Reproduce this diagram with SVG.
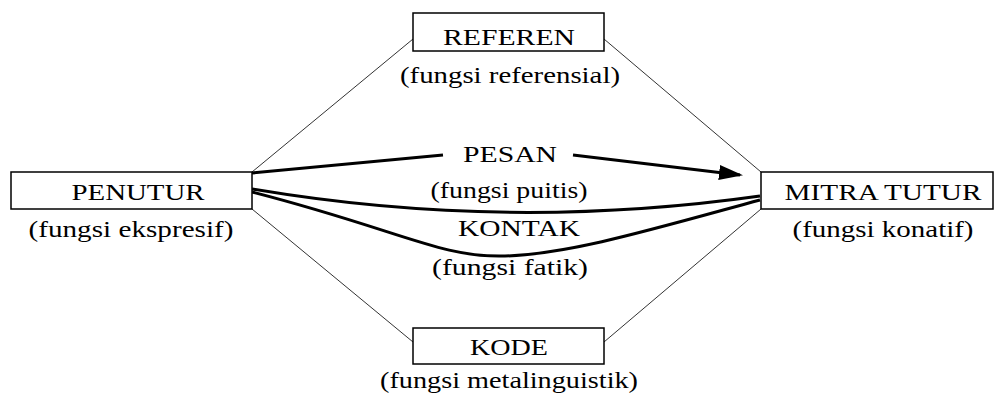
<svg xmlns="http://www.w3.org/2000/svg" width="995" height="399" viewBox="0 0 995 399">
<style>
.box{fill:#fff;stroke:#000;stroke-width:1.5}
.t{font-family:"Liberation Serif","Times New Roman",serif;font-size:23px;fill:#000;text-anchor:middle}
.thin{fill:none;stroke:#333;stroke-width:1}
.thick{fill:none;stroke:#000;stroke-width:3}
</style>
<defs>
<marker id="ah" markerWidth="8" markerHeight="5" refX="7" refY="2.5" orient="auto" markerUnits="strokeWidth">
<path d="M0,0 L8,2.5 L0,5 Z" fill="#000"/>
</marker>
</defs>
<rect width="995" height="399" fill="#fff"/>
<g id="connectors">
<path class="thin" d="M252,172 L413,39"/>
<path class="thin" d="M604,39 L761,172"/>
<path class="thin" d="M252,209 L413,342"/>
<path class="thin" d="M604,342 L761,209"/>
<path class="thick" d="M252,173 L443,155"/>
<path class="thick" d="M573,155 L740,175" marker-end="url(#ah)"/>
<path class="thick" d="M252,189 Q505,232 760,196"/>
<path class="thick" d="M252,192 C400,230 440,258 505,256 C570,254 650,230 760,200"/>
</g>
<g id="referen">
<rect class="box" x="413" y="13" width="191" height="38"/>
<text class="t" transform="translate(509,45) scale(1.26,1)" textLength="104.8" lengthAdjust="spacingAndGlyphs">REFEREN</text>
<text class="t" transform="translate(510,83) scale(1.26,1)" textLength="174.6" lengthAdjust="spacingAndGlyphs">(fungsi referensial)</text>
</g>
<g id="penutur">
<rect class="box" x="11" y="172" width="241" height="37"/>
<text class="t" transform="translate(138,200) scale(1.26,1)" textLength="105.6" lengthAdjust="spacingAndGlyphs">PENUTUR</text>
<text class="t" transform="translate(131,237) scale(1.26,1)" textLength="162.7" lengthAdjust="spacingAndGlyphs">(fungsi ekspresif)</text>
</g>
<g id="mitra">
<rect class="box" x="761" y="172" width="232" height="37"/>
<text class="t" transform="translate(883,200) scale(1.26,1)" textLength="156.3" lengthAdjust="spacingAndGlyphs">MITRA TUTUR</text>
<text class="t" transform="translate(883,237) scale(1.26,1)" textLength="143.7" lengthAdjust="spacingAndGlyphs">(fungsi konatif)</text>
</g>
<g id="pesan">
<text class="t" transform="translate(510,162) scale(1.26,1)" textLength="74.6" lengthAdjust="spacingAndGlyphs">PESAN</text>
<text class="t" transform="translate(509,198) scale(1.26,1)" textLength="124.6" lengthAdjust="spacingAndGlyphs">(fungsi puitis)</text>
</g>
<g id="kontak">
<text class="t" transform="translate(519,236) scale(1.26,1)" textLength="96.8" lengthAdjust="spacingAndGlyphs">KONTAK</text>
<text class="t" transform="translate(510,275) scale(1.26,1)" textLength="123.8" lengthAdjust="spacingAndGlyphs">(fungsi fatik)</text>
</g>
<g id="kode">
<rect class="box" x="413" y="328" width="191" height="36"/>
<text class="t" transform="translate(509,355) scale(1.26,1)" textLength="61.9" lengthAdjust="spacingAndGlyphs">KODE</text>
<text class="t" transform="translate(509,388) scale(1.26,1)" textLength="204.8" lengthAdjust="spacingAndGlyphs">(fungsi metalinguistik)</text>
</g>
</svg>
